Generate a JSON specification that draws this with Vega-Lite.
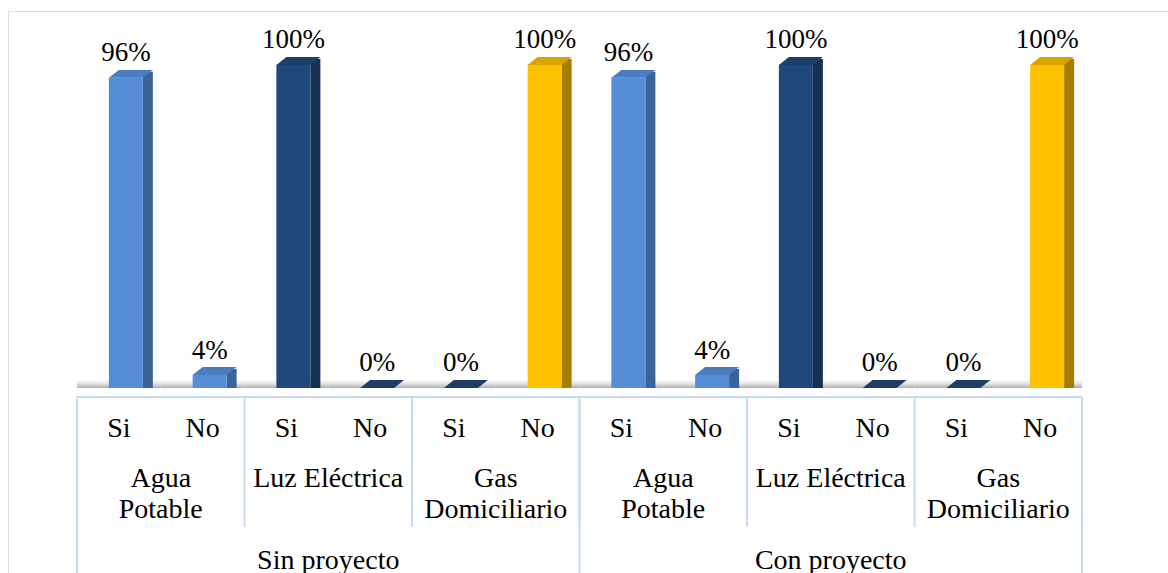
{
  "$schema": "https://vega.github.io/schema/vega-lite/v6.json",
  "width": 1160,
  "height": 562,
  "autosize": {"type": "none"},
  "padding": {"left": 8, "top": 11, "right": 0, "bottom": 0},
  "background": "white",
  "config": {"view": {"stroke": "#D6DFEA", "strokeWidth": 1}, "font": "Liberation Serif", "text": {"font": "Liberation Serif"}},
  "data": {"values": [
    {"proyecto": "Sin proyecto", "servicio": "Agua Potable", "etiqueta": "Agua\nPotable", "respuesta": "Si", "clave": "Sin proyecto / Agua Potable / Si", "porcentaje": 0.96},
    {"proyecto": "Sin proyecto", "servicio": "Agua Potable", "etiqueta": "Agua\nPotable", "respuesta": "No", "clave": "Sin proyecto / Agua Potable / No", "porcentaje": 0.04},
    {"proyecto": "Sin proyecto", "servicio": "Luz Eléctrica", "etiqueta": "Luz Eléctrica", "respuesta": "Si", "clave": "Sin proyecto / Luz Eléctrica / Si", "porcentaje": 1.0},
    {"proyecto": "Sin proyecto", "servicio": "Luz Eléctrica", "etiqueta": "Luz Eléctrica", "respuesta": "No", "clave": "Sin proyecto / Luz Eléctrica / No", "porcentaje": 0.0},
    {"proyecto": "Sin proyecto", "servicio": "Gas Domiciliario", "etiqueta": "Gas\nDomiciliario", "respuesta": "Si", "clave": "Sin proyecto / Gas Domiciliario / Si", "porcentaje": 0.0},
    {"proyecto": "Sin proyecto", "servicio": "Gas Domiciliario", "etiqueta": "Gas\nDomiciliario", "respuesta": "No", "clave": "Sin proyecto / Gas Domiciliario / No", "porcentaje": 1.0},
    {"proyecto": "Con proyecto", "servicio": "Agua Potable", "etiqueta": "Agua\nPotable", "respuesta": "Si", "clave": "Con proyecto / Agua Potable / Si", "porcentaje": 0.96},
    {"proyecto": "Con proyecto", "servicio": "Agua Potable", "etiqueta": "Agua\nPotable", "respuesta": "No", "clave": "Con proyecto / Agua Potable / No", "porcentaje": 0.04},
    {"proyecto": "Con proyecto", "servicio": "Luz Eléctrica", "etiqueta": "Luz Eléctrica", "respuesta": "Si", "clave": "Con proyecto / Luz Eléctrica / Si", "porcentaje": 1.0},
    {"proyecto": "Con proyecto", "servicio": "Luz Eléctrica", "etiqueta": "Luz Eléctrica", "respuesta": "No", "clave": "Con proyecto / Luz Eléctrica / No", "porcentaje": 0.0},
    {"proyecto": "Con proyecto", "servicio": "Gas Domiciliario", "etiqueta": "Gas\nDomiciliario", "respuesta": "Si", "clave": "Con proyecto / Gas Domiciliario / Si", "porcentaje": 0.0},
    {"proyecto": "Con proyecto", "servicio": "Gas Domiciliario", "etiqueta": "Gas\nDomiciliario", "respuesta": "No", "clave": "Con proyecto / Gas Domiciliario / No", "porcentaje": 1.0}
  ]},
  "encoding": {
    "x": {
      "field": "clave", "type": "nominal", "axis": null,
      "scale": {
        "domain": ["Sin proyecto / Agua Potable / Si", "Sin proyecto / Agua Potable / No", "Sin proyecto / Luz Eléctrica / Si", "Sin proyecto / Luz Eléctrica / No", "Sin proyecto / Gas Domiciliario / Si", "Sin proyecto / Gas Domiciliario / No", "Con proyecto / Agua Potable / Si", "Con proyecto / Agua Potable / No", "Con proyecto / Luz Eléctrica / Si", "Con proyecto / Luz Eléctrica / No", "Con proyecto / Gas Domiciliario / Si", "Con proyecto / Gas Domiciliario / No"],
        "range": [69, 1074], "paddingInner": 0, "paddingOuter": 0
      }
    }
  },
  "layer": [
    {
      "mark": {"type": "bar", "color": {"gradient": "linear", "x1": 0, "y1": 0, "x2": 0, "y2": 1, "stops": [{"offset": 0, "color": "#ffffff"}, {"offset": 0.5, "color": "#e2e2e2"}, {"offset": 1, "color": "#b0b0b0"}]}},
      "encoding": {
        "y": {"datum": 0.026, "type": "quantitative", "scale": {"domain": [-0.573, 1.167], "nice": false, "zero": false}, "axis": null},
        "y2": {"datum": 0}
      }
    },
    {
      "transform": [{"filter": "datum.porcentaje > 0"}],
      "mark": {"type": "bar", "width": 10, "xOffset": 29, "yOffset": -6},
      "encoding": {
        "y": {"field": "porcentaje", "type": "quantitative", "scale": {"domain": [-0.573, 1.167], "nice": false, "zero": false}, "axis": null},
        "y2": {"datum": 0},
        "color": {"field": "servicio", "type": "nominal", "legend": null, "scale": {"domain": ["Agua Potable", "Luz Eléctrica", "Gas Domiciliario"], "range": ["#3A6399", "#172F50", "#A67D00"]}}
      }
    },
    {
      "mark": {"type": "bar", "width": 34, "xOffset": 7},
      "encoding": {
        "y": {"field": "porcentaje", "type": "quantitative", "scale": {"domain": [-0.573, 1.167], "nice": false, "zero": false}, "axis": null},
        "y2": {"datum": 0},
        "color": {"field": "servicio", "type": "nominal", "legend": null, "scale": {"domain": ["Agua Potable", "Luz Eléctrica", "Gas Domiciliario"], "range": ["#558ED5", "#1F497D", "#FFC000"]}}
      }
    },
    {
      "mark": {"type": "point", "shape": "M -1 0.18 L 0.545 0.18 L 1 -0.18 L -0.545 -0.18 Z", "size": 1936, "filled": true, "opacity": 1, "strokeWidth": 0, "xOffset": 12, "yOffset": -4},
      "encoding": {
        "y": {"field": "porcentaje", "type": "quantitative", "scale": {"domain": [-0.573, 1.167], "nice": false, "zero": false}, "axis": null},
        "color": {
          "condition": {"test": "datum.porcentaje == 0", "value": "#1F3D66"},
          "field": "servicio", "type": "nominal", "legend": null,
          "scale": {"domain": ["Agua Potable", "Luz Eléctrica", "Gas Domiciliario"], "range": ["#4A7CC0", "#1D3E69", "#D9A300"]}
        }
      }
    },
    {
      "mark": {"type": "text", "font": "Liberation Serif", "xOffset": 7, "yOffset": -16.5, "baseline": "alphabetic", "align": "center", "fontSize": 27, "color": "#000000"},
      "encoding": {
        "y": {"field": "porcentaje", "type": "quantitative", "scale": {"domain": [-0.573, 1.167], "nice": false, "zero": false}, "axis": null},
        "text": {"field": "porcentaje", "type": "quantitative", "format": ".0%"}
      }
    },
    {
      "mark": {"type": "rule", "color": "#C9DAF0", "strokeWidth": 2, "xOffset": -41.875, "x2Offset": 41.875},
      "encoding": {
        "x": {"datum": "Sin proyecto / Agua Potable / Si"},
        "x2": {"datum": "Con proyecto / Gas Domiciliario / No"},
        "y": {"datum": -0.028, "type": "quantitative", "scale": {"domain": [-0.573, 1.167], "nice": false, "zero": false}, "axis": null}
      }
    },
    {
      "transform": [{"filter": "datum.respuesta == 'Si'"}],
      "mark": {"type": "rule", "color": "#C9DAF0", "strokeWidth": 2, "xOffset": -41.875},
      "encoding": {
        "y": {"datum": -0.028, "type": "quantitative", "scale": {"domain": [-0.573, 1.167], "nice": false, "zero": false}, "axis": null},
        "y2": {"datum": -0.43}
      }
    },
    {
      "transform": [{"filter": "datum.respuesta == 'Si' && datum.servicio == 'Agua Potable'"}],
      "mark": {"type": "rule", "color": "#C9DAF0", "strokeWidth": 2, "xOffset": -41.875},
      "encoding": {
        "y": {"datum": -0.028, "type": "quantitative", "scale": {"domain": [-0.573, 1.167], "nice": false, "zero": false}, "axis": null},
        "y2": {"datum": -0.573}
      }
    },
    {
      "transform": [{"filter": "datum.proyecto == 'Con proyecto' && datum.servicio == 'Gas Domiciliario' && datum.respuesta == 'No'"}],
      "mark": {"type": "rule", "color": "#C9DAF0", "strokeWidth": 2, "xOffset": 41.875},
      "encoding": {
        "y": {"datum": -0.028, "type": "quantitative", "scale": {"domain": [-0.573, 1.167], "nice": false, "zero": false}, "axis": null},
        "y2": {"datum": -0.573}
      }
    },
    {
      "mark": {"type": "text", "font": "Liberation Serif", "baseline": "alphabetic", "align": "center", "fontSize": 28, "color": "#000000"},
      "encoding": {
        "y": {"datum": -0.151, "type": "quantitative", "scale": {"domain": [-0.573, 1.167], "nice": false, "zero": false}, "axis": null},
        "text": {"field": "respuesta", "type": "nominal"}
      }
    },
    {
      "transform": [{"filter": "datum.respuesta == 'Si'"}],
      "mark": {"type": "text", "font": "Liberation Serif", "baseline": "alphabetic", "align": "center", "fontSize": 28, "color": "#000000", "lineBreak": "\n", "lineHeight": 31.5, "xOffset": 41.875},
      "encoding": {
        "y": {"datum": -0.3056, "type": "quantitative", "scale": {"domain": [-0.573, 1.167], "nice": false, "zero": false}, "axis": null},
        "text": {"field": "etiqueta", "type": "nominal"}
      }
    },
    {
      "transform": [{"filter": "datum.respuesta == 'No' && datum.servicio == 'Luz Eléctrica'"}],
      "mark": {"type": "text", "font": "Liberation Serif", "baseline": "alphabetic", "align": "center", "fontSize": 28, "color": "#000000", "xOffset": -41.875},
      "encoding": {
        "y": {"datum": -0.562, "type": "quantitative", "scale": {"domain": [-0.573, 1.167], "nice": false, "zero": false}, "axis": null},
        "text": {"field": "proyecto", "type": "nominal"}
      }
    }
  ],
  "resolve": {"scale": {"color": "independent"}}
}
